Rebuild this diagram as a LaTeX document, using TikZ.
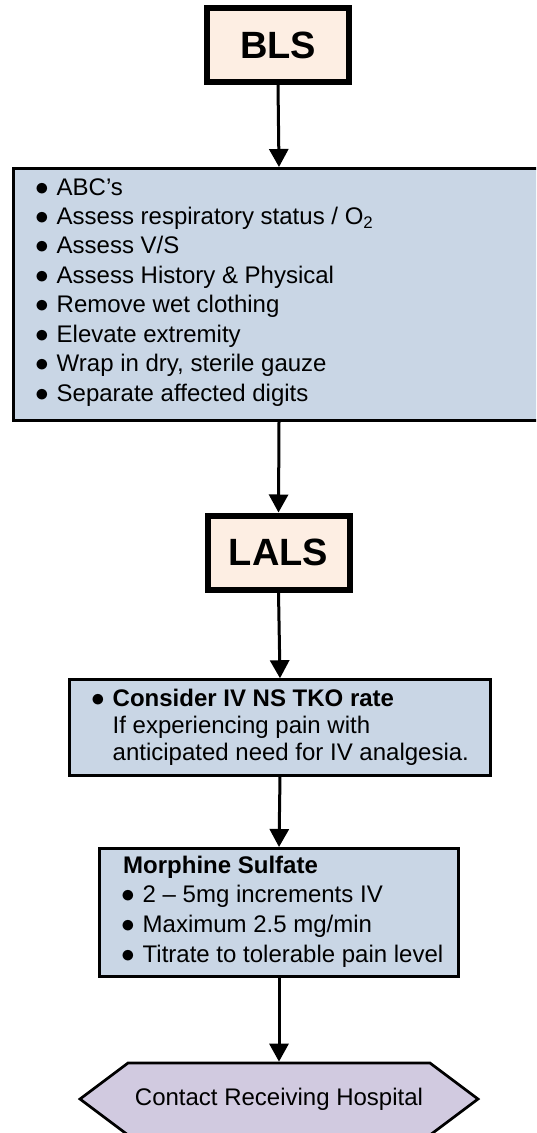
\documentclass[tikz,border=0pt]{standalone}
\usepackage{fontspec}
\setmainfont{Liberation Sans}
\usetikzlibrary{arrows.meta}
\definecolor{peach}{HTML}{FDEEE3}
\definecolor{bluebox}{HTML}{C9D6E5}
\definecolor{lav}{HTML}{D1CAE0}
\newcommand\bl{\makebox[15.5pt][l]{\hspace*{-6pt}\scalebox{1.1}{$\bullet$}}}
\begin{document}
\begin{tikzpicture}[x=1pt,y=-1pt,
  titlebox/.style={draw=black, line width=6pt, fill=peach, minimum width=142pt, minimum height=74pt, inner sep=0pt, font=\fontsize{38}{44}\selectfont\bfseries},
  infobox/.style={draw=black, line width=3pt, fill=bluebox, inner sep=0pt},
  bodytext/.style={anchor=base west, inner sep=0pt, align=left},
  conn/.style={line width=3pt, -{Triangle[length=18pt,width=19pt]}}
]
\useasboundingbox (0,0) rectangle (536,1133);
\clip (0,0) rectangle (536,1133);

% title boxes
\node[titlebox] (bls) at (278,45) {BLS};
\node[titlebox] (lals) at (278.5,552.5) {LALS};

% BLS assessment box
\node[infobox, minimum width=531pt, minimum height=252pt] (assess) at (279,294.5) {};
\node[bodytext] (assesstxt) at (41,195) {\parbox[t]{480pt}{\fontsize{24}{29.43}\selectfont
\bl ABC’s\\
\bl Assess respiratory status / O\textsubscript{2}\\
\bl Assess V/S\\
\bl Assess History \& Physical\\
\bl Remove wet clothing\\
\bl Elevate extremity\\
\bl Wrap in dry, sterile gauze\\
\bl Separate affected digits}};

% IV box
\node[infobox, minimum width=420.5pt, minimum height=95.5pt] (iv) at (280,727.5) {};
\node[bodytext] (ivtxt) at (97,706) {\parbox[t]{400pt}{\fontsize{24}{27.3}\selectfont
\bl\textbf{Consider IV NS TKO rate}\\
\hspace*{15.5pt}If experiencing pain with\\
\hspace*{15.5pt}anticipated need for IV analgesia.}};

% Morphine box
\node[infobox, minimum width=359pt, minimum height=128pt] (morph) at (279,912.5) {};
\node[bodytext] (morphtxt) at (123,873) {\parbox[t]{340pt}{\fontsize{24}{29.8}\selectfont
\textbf{Morphine Sulfate}\\
\hspace*{4pt}\bl 2 – 5mg increments IV\\
\hspace*{4pt}\bl Maximum 2.5 mg/min\\
\hspace*{4pt}\bl Titrate to tolerable pain level}};

% hexagon
\draw[line width=2.7pt, fill=lav, line join=miter] (80,1099) -- (128,1063) -- (430,1063) -- (478,1099) -- (430,1135) -- (128,1135) -- cycle;
\node[inner sep=0pt, outer sep=1.35pt, minimum height=72pt, minimum width=350pt, font=\fontsize{24}{29}\selectfont] (hex) at (279,1099) {Contact Receiving Hospital};

% connectors
\draw[conn] (bls.south) -- (assess.north);
\draw[conn] (assess.south) -- (lals.north);
\draw[conn] (lals.south) -- (iv.north);
\draw[conn] (iv.south) -- (morph.north);
\draw[conn] (morph.south) -- (hex.north);
\end{tikzpicture}
\end{document}
